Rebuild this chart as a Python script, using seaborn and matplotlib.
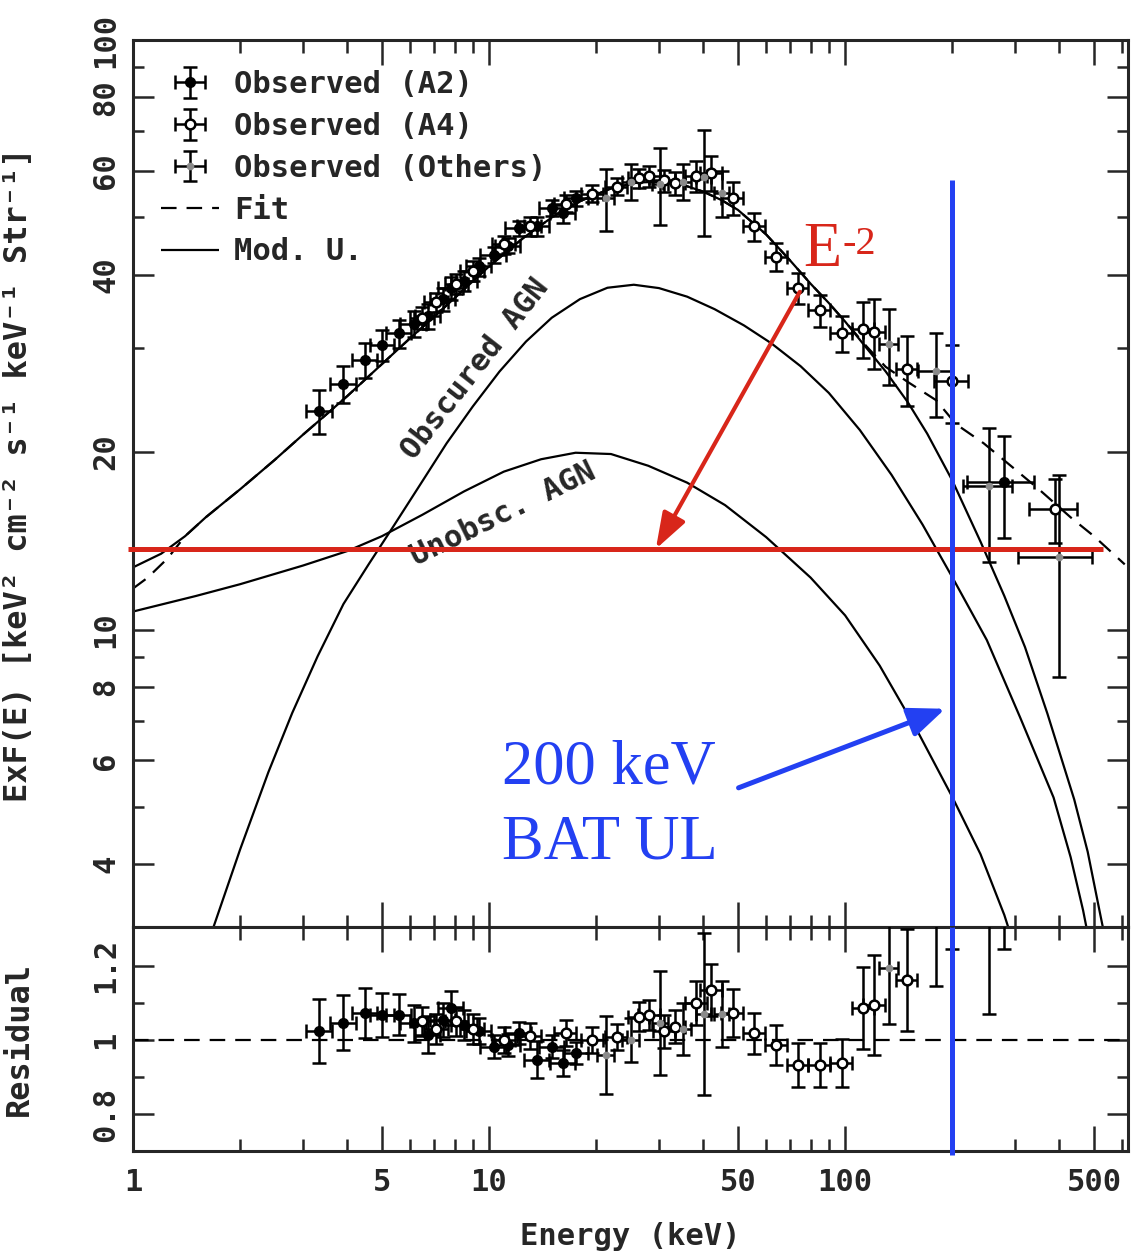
import matplotlib
matplotlib.use("Agg")
import matplotlib.pyplot as plt
import seaborn as sns
from matplotlib.ticker import FixedLocator, FuncFormatter, NullFormatter
from matplotlib.lines import Line2D

# ---------------- model curves: energy [keV] and E*F(E) ----------------
modu_energy = [1.0, 1.2, 1.4, 1.6, 2.0, 2.5, 3.0, 3.5, 4.0, 5.0, 6.0, 7.0, 8.0, 10.0,
               12.5, 15.0, 18.0, 22.0, 26.0, 30.0, 35.0, 40.0, 45.0, 50.0, 60.0, 70.0,
               80.0, 90.0, 100.0, 115.0, 130.0, 150.0, 170.0, 200.0, 240.0, 280.0,
               320.0, 370.0, 440.0, 480.0, 520.0, 540.0]
modu_flux = [12.75, 13.45, 14.4, 15.5, 17.3, 19.4, 21.4, 23.2, 24.9, 28.2, 31.2, 33.9,
             36.5, 41.3, 46.2, 50.0, 53.3, 56.0, 57.3, 57.5, 56.8, 55.3, 53.5, 51.5,
             46.8, 42.3, 38.6, 35.8, 33.3, 30.0, 27.4, 24.3, 21.5, 17.9, 14.1, 11.4,
             9.34, 7.2, 5.15, 4.2, 3.3, 2.95]

fit_energy = [1.0, 1.1, 1.25, 1.4, 1.6, 2.0, 2.5, 3.0, 3.5, 4.0, 5.0, 6.0, 7.0, 8.0,
              10.0, 12.5, 15.0, 18.0, 22.0, 26.0, 30.0, 35.0, 40.0, 45.0, 50.0, 60.0,
              70.0, 80.0, 90.0, 100.0, 115.0, 130.0, 150.0, 180.0, 205.0, 245.0,
              300.0, 350.0, 430.0, 500.0, 610.0]
fit_flux = [11.74, 12.25, 13.2, 14.4, 15.5, 17.3, 19.4, 21.4, 23.2, 24.9, 28.2, 31.2,
            33.9, 36.5, 41.3, 46.2, 50.0, 53.3, 56.0, 57.3, 57.5, 56.8, 55.3, 53.5,
            51.5, 46.8, 42.3, 38.6, 35.8, 33.3, 30.2, 27.9, 26.3, 24.5, 22.3, 20.7,
            18.7, 17.3, 15.5, 14.4, 12.9]

obsc_energy = [1.68, 2.0, 2.4, 2.8, 3.3, 3.9, 4.6, 5.4, 6.4, 7.6, 9.0, 10.7, 12.7,
               15.0, 18.0, 21.5, 25.5, 30.0, 36.0, 43.0, 52.0, 62.0, 75.0, 90.0,
               110.0, 135.0, 165.0, 200.0, 250.0, 310.0, 385.0, 430.0, 466.0, 480.0]
obsc_flux = [3.12, 4.24, 5.73, 7.22, 9.01, 11.05, 12.93, 15.0, 17.6, 20.7, 23.9, 27.4,
             30.8, 33.8, 36.35, 38.0, 38.45, 37.95, 36.7, 34.95, 32.8, 30.6, 27.97,
             25.2, 21.8, 18.3, 15.07, 12.27, 9.6, 7.1, 5.19, 4.11, 3.34, 3.05]

unob_energy = [1.0, 1.5, 2.0, 3.0, 4.0, 5.0, 6.5, 8.5, 11.0, 14.0, 17.5, 22.0, 28.0,
               36.0, 46.0, 60.0, 80.0, 100.0, 125.0, 160.0, 200.0, 240.0, 280.0, 292.0]
unob_flux = [10.73, 11.40, 11.94, 12.84, 13.59, 14.4, 15.66, 17.15, 18.53, 19.45, 19.95,
             19.85, 18.96, 17.75, 16.26, 14.35, 12.25, 10.57, 8.69, 6.71, 5.20, 4.16,
             3.28, 3.03]

# ---------------- observed points ----------------
a2_energy = [3.34, 3.90, 4.48, 5.02, 5.59, 6.14, 6.74, 7.41, 7.84, 8.53, 9.37, 10.3,
             11.3, 12.1, 13.6, 15.0, 16.1, 17.6, 280.0]
a2_ewidth = [0.28, 0.32, 0.36, 0.40, 0.45, 0.50, 0.55, 0.60, 0.63, 0.70, 0.75, 0.85,
             0.90, 1.0, 1.1, 1.2, 1.3, 1.4, 60.0]
a2_flux = [23.5, 26.1, 28.7, 30.4, 31.8, 33.0, 34.0, 36.3, 37.9, 39.0, 41.3, 43.2,
           44.8, 47.9, 48.3, 51.9, 50.8, 53.9, 17.8]
a2_ferr = [2.0, 1.9, 1.95, 1.8, 1.75, 1.65, 1.7, 1.6, 1.7, 1.55, 1.45, 1.3, 1.35,
           1.45, 1.7, 1.55, 1.8, 1.6, 3.5]
a2_resid = [1.024, 1.047, 1.072, 1.068, 1.068, 1.045, 1.014, 1.054, 1.086, 1.040,
            1.023, 0.982, 0.986, 1.018, 0.946, 0.982, 0.937, 0.964, 1.55]
a2_rerr = [0.086, 0.073, 0.068, 0.060, 0.055, 0.050, 0.050, 0.045, 0.045, 0.040,
           0.035, 0.030, 0.030, 0.030, 0.050, 0.030, 0.035, 0.030, 0.305]

a4_energy = [6.5, 7.1, 8.1, 9.0, 11.0, 13.0, 16.4, 19.5, 22.8, 26.3, 28.2, 31.0, 33.2,
             38.2, 42.0, 48.3, 55.6, 64.1, 73.7, 84.9, 97.7, 112.4, 120.6, 148.9,
             200.0, 389.0]
a4_ewidth = [0.5, 0.55, 0.6, 0.7, 0.8, 1.0, 1.2, 1.4, 1.6, 1.8, 2.0, 2.2, 2.4, 2.7,
             3.0, 3.4, 4.0, 4.5, 5.0, 6.0, 7.0, 8.0, 8.5, 10.0, 22.0, 60.0]
a4_flux = [33.8, 35.9, 38.6, 40.6, 45.0, 48.3, 52.8, 54.9, 56.4, 58.3, 58.8, 57.8, 57.1,
           58.8, 59.5, 53.9, 48.3, 42.9, 37.9, 34.8, 31.8, 32.4, 32.0, 27.7, 26.4, 16.0]
a4_ferr = [1.4, 1.4, 1.5, 1.6, 1.6, 1.7, 1.7, 1.8, 1.9, 2.2, 2.4, 2.5, 2.6, 3.5, 4.0,
           3.5, 2.6, 2.4, 2.3, 2.2, 2.2, 3.5, 4.3, 3.8, 4.0, 2.0]
a4_resid = [1.05, 1.03, 1.05, 1.03, 1.00, 1.01, 1.018, 1.00, 1.009, 1.063, 1.068,
            1.023, 1.036, 1.099, 1.135, 1.072, 1.018, 0.986, 0.932, 0.932, 0.937,
            1.086, 1.094, 1.162, 1.50, 2.6]
a4_rerr = [0.04, 0.04, 0.04, 0.04, 0.035, 0.035, 0.035, 0.035, 0.035, 0.04, 0.04,
           0.045, 0.045, 0.06, 0.07, 0.065, 0.055, 0.055, 0.06, 0.06, 0.065, 0.11,
           0.136, 0.137, 0.255, 0.3]

oth_energy = [21.3, 25.0, 30.3, 35.0, 40.1, 45.0, 132.5, 180.0, 254.0, 400.0]
oth_ewidth = [1.2, 1.3, 1.6, 1.8, 2.0, 2.3, 8.0, 20.0, 40.0, 95.0]
oth_flux = [54.0, 57.5, 57.0, 57.5, 58.5, 55.0, 30.5, 27.4, 17.5, 13.3]
oth_ferr = [6.5, 4.0, 8.5, 4.0, 12.0, 5.0, 4.5, 4.5, 4.5, 5.0]
oth_resid = [0.96, 1.00, 1.045, 1.03, 1.07, 1.07, 1.194, 1.40, 1.55, 2.3]
oth_rerr = [0.105, 0.06, 0.14, 0.07, 0.22, 0.09, 0.15, 0.254, 0.48, 0.8]

# ---------------- annotation values ----------------
e2_level = 13.7            # E^-2 reference level
bat_energy = 200.0         # BAT upper-limit energy

RED = "#d8261a"
BLUE = "#2340f2"
MONO = ["DejaVu Sans Mono"]
SERIF = ["Liberation Serif", "DejaVu Serif"]

sns.set_theme(style="ticks")
plt.rcParams["font.family"] = MONO
plt.rcParams["font.weight"] = "bold"
plt.rcParams["axes.labelweight"] = "bold"
plt.rcParams["axes.linewidth"] = 2.2
plt.rcParams["lines.solid_capstyle"] = "butt"

fig = plt.figure(figsize=(11.36, 12.53), dpi=100)
W, H = 1136.0, 1253.0
x0, x1 = 133 / W, 1128 / W
ax1 = fig.add_axes([x0, 1 - 927 / H, x1 - x0, (927 - 40) / H])
ax2 = fig.add_axes([x0, 1 - 1151 / H, x1 - x0, (1151 - 927) / H], sharex=ax1)

xlim = (1.0, 623.0)

# ---------------- top panel ----------------
curve_kw = dict(color="black", linewidth=1.6, estimator=None, sort=False, legend=False)
sns.lineplot(x=unob_energy, y=unob_flux, ax=ax1, **curve_kw)
sns.lineplot(x=obsc_energy, y=obsc_flux, ax=ax1, **curve_kw)
sns.lineplot(x=modu_energy, y=modu_flux, ax=ax1, **curve_kw)
sns.lineplot(x=fit_energy, y=fit_flux, ax=ax1, linestyle=(0, (7, 4.5)), **curve_kw)

eb_kw = dict(ecolor="black", elinewidth=1.8, capsize=5, capthick=1.8, linestyle="none", zorder=4)
h_a2 = ax1.errorbar(a2_energy, a2_flux, yerr=a2_ferr, xerr=a2_ewidth, fmt="o",
                    ms=7, mfc="black", mec="black", **eb_kw)
h_a4 = ax1.errorbar(a4_energy, a4_flux, yerr=a4_ferr, xerr=a4_ewidth, fmt="o",
                    ms=7, mfc="white", mec="black", mew=1.8, **eb_kw)
h_ot = ax1.errorbar(oth_energy, oth_flux, yerr=oth_ferr, xerr=oth_ewidth, fmt="o",
                    ms=4.5, mfc="#8a8a8a", mec="#8a8a8a", **eb_kw)

ax1.set_xscale("log")
ax1.set_yscale("log")
ax1.set_xlim(*xlim)
ax1.set_ylim(3.13, 100)

# red E^-2 level and arrow
ax1.plot([0.968, 531.0], [e2_level, e2_level], color=RED, lw=3.6, clip_on=False, zorder=6)
ax1.annotate("", xy=(29.4, e2_level), xytext=(74.6, 37.4),
             arrowprops=dict(arrowstyle="-|>,head_length=1.1,head_width=0.38",
                             color=RED, lw=3.0, mutation_scale=20, shrinkA=0, shrinkB=0),
             zorder=6)
ax1.text(76.2, 41.3, "E", color=RED, fontsize=45, family=SERIF, weight="normal",
         ha="left", va="baseline", zorder=7)
ax1.text(98.6, 43.4, "-2", color=RED, fontsize=29, family=SERIF, weight="normal",
         ha="left", va="baseline", zorder=7)

# blue BAT limit line and arrow
ax1.plot([bat_energy, bat_energy], [57.8, 3.0], color=BLUE, lw=3.6, zorder=6)
ax1.annotate("", xy=(191.0, 7.34), xytext=(50.2, 5.39),
             arrowprops=dict(arrowstyle="-|>,head_length=1.1,head_width=0.45",
                             color=BLUE, lw=3.6, mutation_scale=20, shrinkA=0, shrinkB=0),
             zorder=6)
ax1.text(10.86, 5.49, "200 keV", color=BLUE, fontsize=45, family=SERIF, weight="normal",
         ha="left", va="baseline")
ax1.text(10.86, 4.09, "BAT UL", color=BLUE, fontsize=45, family=SERIF, weight="normal",
         ha="left", va="baseline")

# component labels
ax1.text(9.13, 27.7, "Obscured AGN", rotation=52, fontsize=22, ha="center", va="center",
         rotation_mode="anchor")
ax1.text(10.97, 15.7, "Unobsc. AGN", rotation=26, fontsize=22, ha="center", va="center",
         rotation_mode="anchor")

# ---------------- residual panel ----------------
ax2.axhline(1.0, color="black", lw=1.6, linestyle=(0, (7, 4.5)), zorder=2)
ax2.errorbar(a2_energy, a2_resid, yerr=a2_rerr, xerr=a2_ewidth, fmt="o",
             ms=7, mfc="black", mec="black", **eb_kw)
ax2.errorbar(a4_energy, a4_resid, yerr=a4_rerr, xerr=a4_ewidth, fmt="o",
             ms=7, mfc="white", mec="black", mew=1.8, **eb_kw)
ax2.errorbar(oth_energy, oth_resid, yerr=oth_rerr, xerr=oth_ewidth, fmt="o",
             ms=4.5, mfc="#8a8a8a", mec="#8a8a8a", **eb_kw)
ax2.plot([bat_energy, bat_energy], [0.689, 1.305], color=BLUE, lw=3.6, clip_on=False, zorder=6)
ax2.set_ylim(0.70, 1.305)
ax2.set_xlim(*xlim)

# ---------------- ticks ----------------
x_major = [1, 5, 10, 50, 100, 500]
x_minor = [2, 3, 4, 6, 7, 8, 9, 20, 30, 40, 60, 70, 80, 90, 200, 300, 400, 600]
fmt = FuncFormatter(lambda v, p: "%g" % v)
for ax in (ax1, ax2):
    ax.xaxis.set_major_locator(FixedLocator(x_major))
    ax.xaxis.set_minor_locator(FixedLocator(x_minor))
    ax.tick_params(axis="x", which="major", direction="in", length=18, width=1.8,
                   top=True, bottom=True)
    ax.tick_params(axis="x", which="minor", direction="in", length=9, width=1.8,
                   top=True, bottom=True)
    ax.tick_params(axis="y", which="major", direction="in", length=15, width=1.8,
                   left=True, right=True, labelsize=22, pad=9)
    ax.tick_params(axis="y", which="minor", direction="in", length=8, width=1.8,
                   left=True, right=True)
    for s in ax.spines.values():
        s.set_visible(True)
        s.set_linewidth(2.2)

ax1.xaxis.set_major_formatter(NullFormatter())
ax1.xaxis.set_minor_formatter(NullFormatter())
ax1.tick_params(axis="x", labelbottom=False)
ax1.yaxis.set_major_locator(FixedLocator([4, 6, 8, 10, 20, 40, 60, 80, 100]))
ax1.yaxis.set_minor_locator(FixedLocator([3, 5, 7, 9, 30, 50, 70, 90]))
ax1.yaxis.set_major_formatter(fmt)
ax1.yaxis.set_minor_formatter(NullFormatter())

ax2.xaxis.set_major_formatter(fmt)
ax2.xaxis.set_minor_formatter(NullFormatter())
ax2.tick_params(axis="x", labelsize=22, pad=12)
ax2.yaxis.set_major_locator(FixedLocator([0.8, 1.0, 1.2]))
ax2.yaxis.set_minor_locator(FixedLocator([0.9, 1.1]))
ax2.yaxis.set_major_formatter(fmt)
ax2.yaxis.set_minor_formatter(NullFormatter())

for lab in ax1.get_yticklabels() + ax2.get_yticklabels():
    lab.set_rotation(90)
    lab.set_va("center")

ax1.set_ylabel("ExF(E) [keV² cm⁻² s⁻¹ keV⁻¹ Str⁻¹]", fontsize=23, fontweight="bold")
ax1.yaxis.set_label_coords(-0.099, 0.51)
ax2.set_ylabel("Residual", fontsize=23, fontweight="bold")
ax2.yaxis.set_label_coords(-0.099, 0.5)
ax2.set_xlabel("Energy (keV)", fontsize=22, fontweight="bold", labelpad=18)
ax1.set_xlabel("")

# ---------------- legend ----------------
fit_handle = Line2D([], [], color="black", lw=1.6, linestyle=(0, (7, 4.5)))
modu_handle = Line2D([], [], color="black", lw=1.6)
ax1.legend([h_a2, h_a4, h_ot, fit_handle, modu_handle],
           ["Observed (A2)", "Observed (A4)", "Observed (Others)", "Fit", "Mod. U."],
           loc="upper left", bbox_to_anchor=(0.028, 0.966), frameon=False,
           fontsize=22, handlelength=1.9, handletextpad=0.5, labelspacing=0.42,
           borderaxespad=0, borderpad=0)

fig.savefig("out.png", dpi=100)
